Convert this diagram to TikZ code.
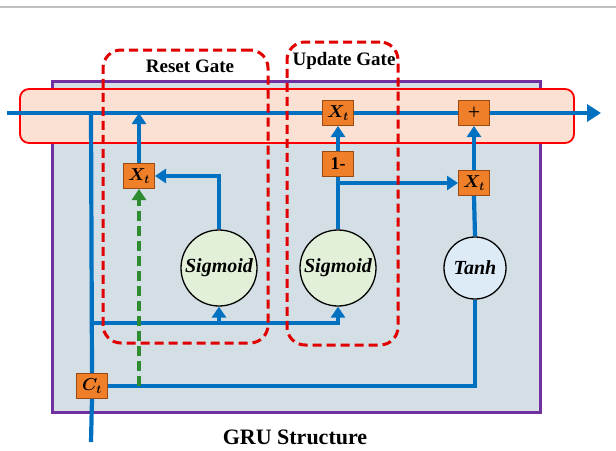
\documentclass[tikz,border=0pt]{standalone}
\usepackage{amsmath}
\usepackage{bm}
\usepackage{fontspec}
\setmainfont{Liberation Serif}
\usepackage{tikz}
\usetikzlibrary{arrows.meta,positioning,shapes.geometric}
\definecolor{LineBlue}{HTML}{0070C0}
\definecolor{CellFill}{HTML}{D3DEE5}
\definecolor{CellEdge}{HTML}{7030A0}
\definecolor{BandFill}{HTML}{FBE1D4}
\definecolor{GateRed}{HTML}{E00000}
\definecolor{OpOrange}{HTML}{F07F2A}
\definecolor{OpEdge}{HTML}{9C4A14}
\definecolor{SkipGreen}{HTML}{2E8B30}
\definecolor{SoftGreen}{HTML}{E2F0D9}
\definecolor{SoftBlue}{HTML}{DDEBF7}
\tikzset{
  OP/.style={rectangle,draw=OpEdge,fill=OpOrange,line width=1pt,
             minimum width=31pt,minimum height=25pt,inner sep=0pt,
             font=\fontsize{18}{18}\selectfont\bfseries},
  act/.style={circle,draw=black,line width=1.3pt,inner sep=0pt,
              font=\fontsize{20}{20}\selectfont\bfseries\itshape},
  ln/.style={line width=4.2pt,LineBlue},
  arr/.style={ln,-{Triangle[length=11pt,width=14pt]}},
  gate/.style={rectangle,draw=GateRed,line width=3pt,
               dash pattern=on 9pt off 5pt,rounded corners=18pt},
  gatelbl/.style={font=\fontsize{19}{19}\selectfont\bfseries,inner sep=1pt}
}
\begin{document}
\begin{tikzpicture}[x=1pt,y=-1pt]
  \useasboundingbox (0,0) rectangle (616,450);
  \draw[line width=1.5pt,black!25] (0,7) -- (616,7);

  % cell and state band
  \node[rectangle,draw=CellEdge,fill=CellFill,line width=3pt,
        minimum width=488pt,minimum height=331pt] (cell) at (296,246.5) {};
  \node[rectangle,draw=red,fill=BandFill,line width=1.8pt,rounded corners=9pt,
        minimum width=554pt,minimum height=54pt] (band) at (297,116) {};

  \coordinate (hin) at (7,113);
  \coordinate (hout) at (601,113);
  \coordinate (xin) at (91,442);
  \coordinate (j0) at (91,113);
  \coordinate (j1) at (91,323);

  % operations
  \node[OP] (ct) at (92,386) {$\bm{C_t}$};
  \node[OP] (mulR) at (139,176) {$\bm{X_t}$};
  \node[OP] (mulU) at (338,113) {$\bm{X_t}$};
  \node[OP] (onem) at (338,164) {1-};
  \node[OP,font=\fontsize{22}{22}\selectfont] (plus) at (474,113) {+};
  \node[OP] (mulT) at (474,183) {$\bm{X_t}$};

  \node[act,fill=SoftGreen,minimum size=76pt] (sig1) at (219,268) {Sigmoid};
  \node[act,fill=SoftGreen,minimum size=76pt] (sig2) at (338,268) {Sigmoid};
  \node[act,fill=SoftBlue,minimum size=62pt] (tanh) at (475,268) {Tanh};

  % connectors
  \draw[ln] (hin) -- (mulU.west);
  \draw[ln] (mulU.east) -- (plus.west);
  \draw[ln,-{Triangle[length=14pt,width=17pt]}] (plus.east) -- (hout);
  \draw[ln] (xin) -- (ct.south);
  \draw[ln] (ct.north) -- (j0);
  \draw[arr] (j1) -| (sig2.south);
  \draw[arr] (sig1.south |- j1) -- (sig1.south);
  \draw[arr] (sig1.north) |- (mulR.east);
  \draw[arr] (mulR.north) -- (mulR.north |- hin);
  \draw[ln] (ct.east) -| (tanh.south);
  \draw[ln] (sig2.north) -- (onem.south);
  \draw[arr] (onem.north) -- (mulU.south);
  \draw[arr] (onem.south |- mulT.west) -- (mulT.west);
  \draw[ln] (tanh.north) -- (mulT.south);
  \draw[arr] (mulT.north) -- (plus.south);

  % gates
  \node[gate,minimum width=165pt,minimum height=293pt] (rgate) at (185.5,196.5) {};
  \node[gate,minimum width=111pt,minimum height=303pt] (ugate) at (342.5,193.5) {};
  \node[gatelbl] (rlbl) at (190,66) {Reset Gate};
  \node[gatelbl] (ulbl) at (344,61) {Update Gate};

  \draw[line width=4pt,SkipGreen,dash pattern=on 10pt off 5pt,
        -{Triangle[length=11pt,width=14pt]}] (mulR.south |- ct) -- (mulR.south);

  \node[font=\fontsize{22}{22}\selectfont\bfseries,inner sep=0pt] (title) at (295,437) {GRU Structure};
\end{tikzpicture}
\end{document}
